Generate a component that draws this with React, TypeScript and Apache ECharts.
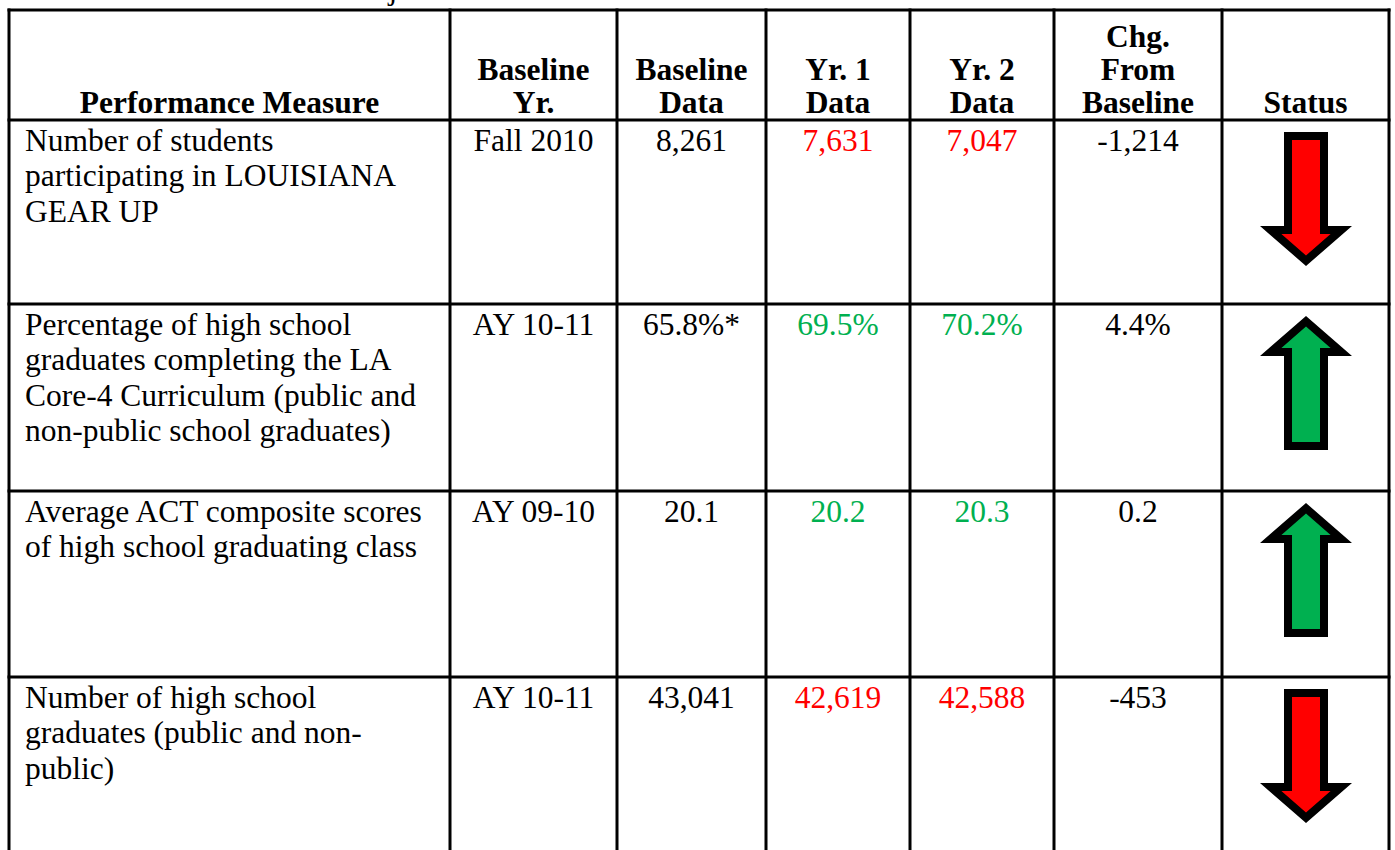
import React, { useEffect, useRef } from "react";
import * as echarts from "echarts";

// ---- Data ----
const titleText = "Performance Measures for Objective 1.1";
const headers: string[][] = [
  ["Performance Measure"],
  ["Baseline", "Yr."],
  ["Baseline", "Data"],
  ["Yr. 1", "Data"],
  ["Yr. 2", "Data"],
  ["Chg.", "From", "Baseline"],
  ["Status"],
];
const measures: string[][] = [
  ["Number of students", "participating in LOUISIANA", "GEAR UP"],
  ["Percentage of high school", "graduates completing the LA", "Core-4 Curriculum (public and", "non-public school graduates)"],
  ["Average ACT composite scores", "of high school graduating class"],
  ["Number of high school", "graduates (public and non-", "public)"],
];
const baselineYears = ["Fall 2010", "AY 10-11", "AY 09-10", "AY 10-11"];
const baselineData = ["8,261", "65.8%*", "20.1", "43,041"];
const yr1Data = ["7,631", "69.5%", "20.2", "42,619"];
const yr2Data = ["7,047", "70.2%", "20.3", "42,588"];
const changes = ["-1,214", "4.4%", "0.2", "-453"];
const statuses = ["down", "up", "up", "down"];

// ---- Layout ----
const COLS = [9, 450, 617, 766, 910, 1054, 1222, 1389];
const ROWS = [10, 120, 304, 491, 677];
const BOTTOM = 852;
const FONT = "'Liberation Serif', 'Times New Roman', serif";
const FS = 31.5;
const LH = 35.5;
const HLH = 33;
const RED = "#FF0000";
const GREEN = "#00B050";

function arrow(cx: number, top: number, bottom: number, dir: string, fill: string) {
  const shw = 22, hhw = 46, hl = 40, b = 8;
  const ihw = 24.6, tipIn = 10.6;
  const sgn = dir === "down" ? 1 : -1;
  const start = dir === "down" ? top : bottom;
  const tip = dir === "down" ? bottom : top;
  const base = tip - sgn * hl;
  const outer = [
    [cx - shw, start], [cx + shw, start], [cx + shw, base], [cx + hhw, base],
    [cx, tip], [cx - hhw, base], [cx - shw, base],
  ];
  const inner = [
    [cx - (shw - b), start + sgn * b], [cx + (shw - b), start + sgn * b],
    [cx + (shw - b), base + sgn * b], [cx + ihw, base + sgn * b],
    [cx, tip - sgn * tipIn], [cx - ihw, base + sgn * b], [cx - (shw - b), base + sgn * b],
  ];
  return [
    { type: "polygon", shape: { points: outer }, style: { fill: "#000" } },
    { type: "polygon", shape: { points: inner }, style: { fill } },
  ];
}

export default function App() {
  const ref = useRef<HTMLDivElement>(null);
  useEffect(() => {
    if (!ref.current) return;
    const chart = echarts.init(ref.current, null, { renderer: "svg" });
    const els: any[] = [];
    els.push({ type: "rect", shape: { x: 0, y: 0, width: 1395, height: 850 }, style: { fill: "#fff" } });
    // cut-off title
    els.push({
      type: "text", x: 8, y: 4,
      style: { text: titleText, font: `${FS}px ${FONT}`, fill: "#000", verticalAlign: "bottom", align: "left" },
    });
    // grid lines
    ROWS.forEach((y) => {
      els.push({ type: "line", shape: { x1: COLS[0] - 1.5, y1: y, x2: COLS[COLS.length - 1] + 1.5, y2: y }, style: { stroke: "#000", lineWidth: 3 } });
    });
    COLS.forEach((x) => {
      els.push({ type: "line", shape: { x1: x, y1: ROWS[0] - 1.5, x2: x, y2: BOTTOM }, style: { stroke: "#000", lineWidth: 3 } });
    });
    // headers (bottom aligned)
    headers.forEach((lines, c) => {
      const cx = (COLS[c] + COLS[c + 1]) / 2;
      const lastY = 102;
      lines.forEach((t, i) => {
        const y = lastY - (lines.length - 1 - i) * HLH;
        els.push({
          type: "text", x: cx, y,
          style: { text: t, font: `bold ${FS}px ${FONT}`, fill: "#000", align: "center", verticalAlign: "middle" },
        });
      });
    });
    // body
    measures.forEach((lines, r) => {
      const top = ROWS[r + 1];
      const firstY = top + 20;
      lines.forEach((t, i) => {
        els.push({
          type: "text", x: 25, y: firstY + i * LH,
          style: { text: t, font: `${FS}px ${FONT}`, fill: "#000", align: "left", verticalAlign: "middle" },
        });
      });
      const color = statuses[r] === "down" ? RED : GREEN;
      const cells = [
        { t: baselineYears[r], c: "#000" },
        { t: baselineData[r], c: "#000" },
        { t: yr1Data[r], c: color },
        { t: yr2Data[r], c: color },
        { t: changes[r], c: "#000" },
      ];
      cells.forEach((cell, k) => {
        const cx = (COLS[k + 1] + COLS[k + 2]) / 2;
        els.push({
          type: "text", x: cx, y: firstY,
          style: { text: cell.t, font: `${FS}px ${FONT}`, fill: cell.c, align: "center", verticalAlign: "middle" },
        });
      });
      const acx = (COLS[6] + COLS[7]) / 2 + 0.5;
      els.push(...arrow(acx, top + 12, top + 146, statuses[r], color));
    });
    chart.setOption({ animation: false, graphic: { elements: els } });
    return () => chart.dispose();
  }, []);
  return (
    <div
      ref={ref}
      style={{ position: "fixed", left: 0, top: 0, width: 1395, height: 850, background: "#fff" }}
    />
  );
}
